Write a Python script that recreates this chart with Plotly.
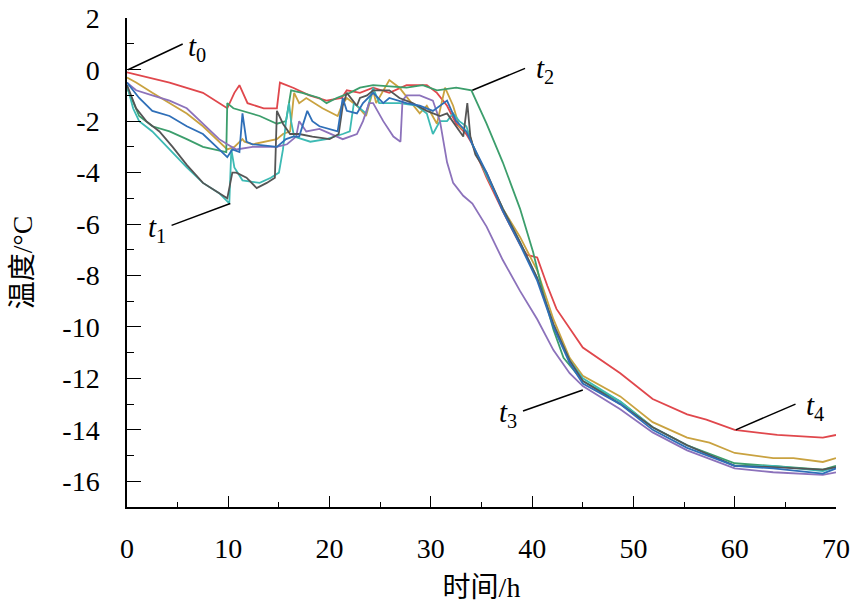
import plotly.graph_objects as go

# temperature readings (degC) against time (h)
red_x = [0, 4.2, 7.5, 9.9, 10.6, 11.1, 11.9, 13.5, 14.8, 15.1, 16.4, 18.0, 19.7,
         21.2, 21.7, 23.0, 24.3, 25.9, 27.6, 29.6, 30.6, 31.6, 32.5, 33.5, 34.1,
         35.5, 37.1, 38.8, 39.5, 40.5, 41.5, 42.4, 45.0, 48.7, 51.9, 55.3, 57.2,
         60.0, 64.2, 68.7, 70.0]
red_y = [-0.1, -0.5, -0.9, -1.5, -0.9, -0.6, -1.3, -1.5, -1.5, -0.5, -0.7, -1.0,
         -1.2, -1.1, -0.8, -0.9, -0.7, -0.9, -0.6, -0.6, -0.9, -1.4, -2.1, -2.5,
         -2.9, -4.2, -5.5, -6.8, -7.2, -7.3, -8.4, -9.3, -10.8, -11.8, -12.8,
         -13.4, -13.6, -14.0, -14.2, -14.3, -14.2]

gold_x = [0, 0.9, 2.5, 4.2, 5.9, 7.5, 9.1, 9.9, 10.6, 11.4, 11.6, 12.4, 14.8,
          15.4, 16.1, 16.5, 17.0, 17.7, 19.3, 20.8, 21.2, 21.7, 22.7, 23.6,
          24.3, 24.6, 25.9, 26.9, 27.9, 28.9, 29.6, 30.6, 31.4, 32.2, 32.8,
          33.8, 34.1, 35.5, 37.1, 38.8, 40.5, 42.1, 43.7, 45.0, 48.7, 51.9,
          55.3, 57.5, 60.0, 63.8, 65.8, 68.7, 70.0]
gold_y = [-0.3, -0.5, -0.9, -1.3, -1.7, -2.2, -2.8, -3.1, -3.0, -2.7, -2.8, -2.9,
          -2.7, -2.5, -2.4, -0.9, -1.3, -1.1, -1.5, -1.8, -1.4, -1.1, -1.4,
          -1.8, -0.8, -1.3, -0.4, -0.7, -1.2, -1.7, -1.4, -2.1, -0.7, -1.4,
          -2.2, -2.5, -2.9, -4.1, -5.4, -6.5, -7.8, -9.7, -11.2, -11.9, -12.7,
          -13.7, -14.3, -14.5, -14.9, -15.1, -15.1, -15.25, -15.1]

green_x = [0, 1.2, 2.5, 4.2, 5.9, 7.5, 9.8, 9.9, 10.5, 11.4, 13.1, 14.8, 15.7,
           16.2, 17.3, 19.0, 19.7, 20.7, 22.0, 23.0, 24.3, 27.6, 29.2, 30.6,
           32.5, 34.0, 35.5, 37.1, 38.8, 40.1, 41.1, 42.1, 43.1, 45.0, 48.7,
           51.9, 55.3, 60.0, 63.8, 68.7, 70.0]
green_y = [-0.7, -1.8, -2.2, -2.4, -2.7, -3.0, -3.2, -1.3, -1.5, -1.6, -1.8,
           -2.1, -2.0, -0.8, -0.9, -1.1, -1.3, -1.1, -0.9, -0.7, -0.6, -0.7,
           -0.6, -0.8, -0.7, -0.8, -2.1, -3.6, -5.4, -7.1, -8.7, -10.1, -11.2,
           -12.1, -12.9, -13.9, -14.6, -15.3, -15.4, -15.55, -15.4]

blue_x = [0, 1.2, 2.5, 4.2, 5.9, 7.5, 9.1, 9.9, 10.4, 11.1, 11.4, 11.8, 12.4,
          14.8, 15.7, 16.4, 17.0, 17.8, 18.3, 19.0, 20.8, 21.3, 21.7, 22.7,
          23.3, 24.3, 25.3, 25.9, 27.6, 28.9, 30.2, 31.6, 32.5, 33.5, 34.1,
          35.5, 37.1, 38.8, 40.5, 42.1, 43.7, 45.0, 48.7, 51.9, 55.3, 60.0,
          63.8, 68.7, 70.0]
blue_y = [-0.5, -1.1, -1.6, -1.8, -2.2, -2.5, -3.1, -3.4, -3.1, -3.2, -1.7,
          -2.8, -2.9, -3.0, -2.7, -2.6, -2.6, -1.6, -2.0, -2.2, -2.4, -1.1,
          -1.6, -1.7, -1.3, -0.9, -1.3, -1.1, -1.3, -1.4, -1.6, -1.2, -2.0,
          -2.4, -2.9, -4.0, -5.5, -6.8, -8.2, -10.0, -11.4, -12.2, -13.0,
          -14.0, -14.7, -15.4, -15.5, -15.7, -15.5]

dark_x = [0, 0.9, 1.9, 3.2, 4.5, 5.9, 7.5, 9.1, 9.9, 10.4, 10.8, 11.8, 12.8,
          13.8, 14.6, 14.8, 15.4, 16.1, 17.0, 18.3, 20.0, 20.9, 21.3, 21.7,
          22.7, 23.0, 23.7, 24.3, 25.9, 26.9, 28.2, 29.6, 30.9, 31.6, 32.5,
          33.2, 33.6, 33.9, 34.4, 35.5, 37.1, 38.8, 40.5, 42.1, 43.7, 45.0,
          48.7, 51.9, 55.3, 60.0, 63.8, 68.7, 70.0]
dark_y = [-0.6, -1.5, -2.0, -2.4, -3.0, -3.7, -4.4, -4.8, -5.0, -4.0, -4.0,
          -4.2, -4.6, -4.4, -4.2, -1.6, -2.1, -2.5, -2.5, -2.6, -2.7, -2.5,
          -1.4, -0.9, -1.4, -1.1, -1.0, -0.8, -0.8, -1.1, -1.3, -1.6, -1.8,
          -1.7, -2.2, -2.6, -1.3, -2.6, -3.3, -4.0, -5.4, -6.7, -8.1, -9.9,
          -11.3, -12.1, -13.0, -13.9, -14.6, -15.4, -15.45, -15.55, -15.45]

cyan_x = [0, 0.6, 1.2, 2.5, 4.2, 5.9, 7.5, 9.1, 10.1, 10.3, 10.6, 11.4, 13.1,
          14.2, 15.0, 15.4, 15.7, 16.0, 16.2, 16.5, 18.1, 19.7, 21.3, 22.0,
          22.4, 23.6, 24.3, 24.9, 26.9, 28.6, 29.6, 30.2, 30.9, 31.6, 32.2,
          32.8, 33.5, 34.1, 35.5, 37.1, 38.8, 40.5, 42.1, 43.7, 45.0, 48.7,
          51.9, 55.3, 60.0, 63.8, 68.7, 70.0]
cyan_y = [-0.6, -1.5, -2.0, -2.4, -3.1, -3.8, -4.4, -4.8, -5.2, -3.1, -3.8,
          -4.3, -4.4, -4.2, -4.0, -3.1, -2.0, -1.3, -2.0, -2.6, -2.8, -2.7,
          -2.5, -2.4, -1.3, -1.7, -0.7, -1.3, -1.3, -1.4, -1.7, -2.5, -2.0,
          -2.0, -1.7, -2.0, -2.2, -2.9, -4.1, -5.4, -6.7, -8.1, -9.9, -11.3,
          -12.0, -12.9, -13.9, -14.6, -15.4, -15.4, -15.6, -15.45]

purple_x = [0, 0.9, 2.5, 4.2, 5.9, 7.5, 9.1, 9.9, 10.8, 12.4, 14.8, 15.8, 16.7,
            17.0, 17.7, 19.0, 21.3, 22.7, 23.3, 23.9, 24.3, 25.3, 26.3, 27.0,
            27.2, 27.6, 28.9, 30.2, 30.9, 31.6, 32.2, 33.2, 34.1, 35.5, 37.1,
            38.8, 40.5, 42.1, 43.7, 45.0, 48.7, 51.9, 55.3, 60.0, 63.8, 68.7,
            70.0]
purple_y = [-0.5, -0.8, -1.0, -1.2, -1.5, -2.1, -2.7, -2.9, -3.1, -3.0, -3.0,
            -2.9, -2.6, -2.0, -2.4, -2.3, -2.7, -2.5, -2.0, -1.3, -1.3, -2.0,
            -2.6, -2.8, -1.2, -1.0, -1.0, -1.2, -2.0, -3.6, -4.4, -4.9, -5.2,
            -6.1, -7.4, -8.6, -9.7, -10.9, -11.8, -12.3, -13.2, -14.1, -14.8,
            -15.5, -15.65, -15.75, -15.65]

# y tick labels use a plain hyphen, as in the original figure
y_ticks = [2, 0, -2, -4, -6, -8, -10, -12, -14, -16]
y_tick_text = ['2', '0', '-2', '-4', '-6', '-8', '-10', '-12', '-14', '-16']

series = [
    (red_x, red_y, '#e0474c'),
    (gold_x, gold_y, '#c9a240'),
    (green_x, green_y, '#3c9e6c'),
    (cyan_x, cyan_y, '#3cbab4'),
    (purple_x, purple_y, '#8c72bb'),
    (dark_x, dark_y, '#555555'),
    (blue_x, blue_y, '#2f6fb8'),
]

# leader lines for the t0..t4 labels: (x0, y0, x1, y1, label x, label y, name)
labels = [
    (0.1, 0.0, 5.5, 1.0, 6.9, 0.85, '0'),
    (4.4, -6.05, 10.2, -5.2, 3.0, -6.2, '1'),
    (34.1, -0.8, 39.3, 0.05, 41.3, 0.0, '2'),
    (39.1, -13.27, 45.0, -12.45, 37.6, -13.4, '3'),
    (60.1, -14.0, 66.0, -13.0, 67.9, -13.1, '4'),
]

serif = '"Liberation Serif", "Times New Roman", serif'
cjk = '"Liberation Serif", "Noto Sans CJK SC", serif'

fig = go.Figure()
for xs, ys, col in series:
    fig.add_trace(go.Scatter(x=xs, y=ys, mode='lines',
                             line=dict(color=col, width=1.8),
                             showlegend=False))

for x0, y0, x1, y1, lx, ly, n in labels:
    fig.add_shape(type='line', x0=x0, y0=y0, x1=x1, y1=y1,
                  line=dict(color='black', width=1.5))
    fig.add_annotation(x=lx, y=ly, text='<i>t</i><sub>' + n + '</sub>',
                       showarrow=False,
                       font=dict(family=serif, size=29, color='black'))

fig.update_layout(
    width=854, height=613,
    margin=dict(l=127, r=18, t=18, b=106, autoexpand=False),
    plot_bgcolor='white', paper_bgcolor='white',
    font=dict(family=serif, size=28, color='black'),
)
fig.update_xaxes(
    range=[0, 70], dtick=10, showgrid=False, zeroline=False,
    showline=True, linecolor='black', linewidth=1.5, automargin=False,
    ticks='inside', ticklen=11, tickcolor='black', ticklabelstandoff=16,
    ticklabeloverflow='allow',
    minor=dict(dtick=5, ticks='inside', ticklen=5, tickcolor='black'),
    title=dict(text='时间/h', standoff=14, font=dict(family=cjk, size=28)),
)
fig.update_yaxes(
    range=[-17, 2.01], tickvals=y_ticks, ticktext=y_tick_text,
    showgrid=False, zeroline=False,
    showline=True, linecolor='black', linewidth=1.5, automargin=False,
    ticks='inside', ticklen=14, tickcolor='black', ticklabelstandoff=20,
    ticklabeloverflow='allow',
    minor=dict(dtick=1, ticks='inside', ticklen=7, tickcolor='black'),
    title=dict(text='温度/°C', standoff=22, font=dict(family=cjk, size=28)),
)

# drop the default 8px page margin so the figure fills the window exactly
fig.write_html('out.html', config={'displayModeBar': False},
               post_script="document.body.style.margin = '0';")
